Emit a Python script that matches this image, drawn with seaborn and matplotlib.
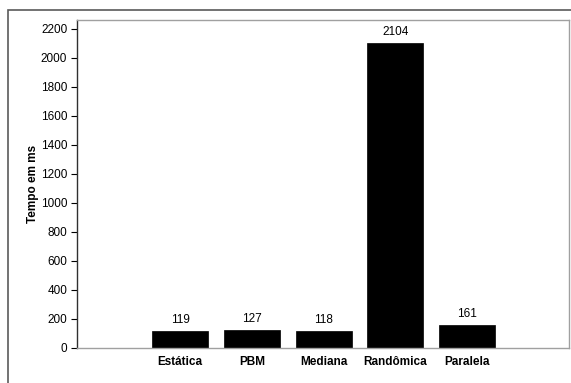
import matplotlib
matplotlib.use("Agg")
import matplotlib.pyplot as plt
from matplotlib.patches import Rectangle
import seaborn as sns

metodos = ["Estática", "PBM", "Mediana", "Randômica", "Paralela"]
tempos_ms = [119, 127, 118, 2104, 161]
y_ticks = list(range(0, 2201, 200))

sns.set_theme(style="white")
plt.rcParams["font.family"] = ["Liberation Sans", "DejaVu Sans"]
plt.rcParams["text.color"] = "black"
plt.rcParams["axes.labelcolor"] = "black"
plt.rcParams["xtick.color"] = "black"
plt.rcParams["ytick.color"] = "black"

fig = plt.figure(figsize=(5.71, 3.83), dpi=100)
fig.patch.set_facecolor("white")

# chart-area frame
fig.patches.append(Rectangle((8 / 571, -0.05), 1.2, 1 - 10 / 383 + 0.05,
                             transform=fig.transFigure, fill=False,
                             edgecolor="#5a5a5a", linewidth=1.2, zorder=0))

ax = fig.add_axes([77 / 571, 35 / 383, 492 / 571, 328 / 383])
sns.barplot(x=metodos, y=tempos_ms, color="black", saturation=1,
            width=0.78, edgecolor="black", linewidth=0.5, ax=ax)

for cont in ax.containers:
    ax.bar_label(cont, labels=[str(v) for v in tempos_ms], padding=3.5,
                 fontsize=8.5, color="black")

ax.set_xlim(-1.44, 5.42)
ax.set_ylim(0, 2262)
ax.set_yticks(y_ticks)
ax.set_yticklabels([str(t) for t in y_ticks], fontsize=8.5)
ax.set_xticks(range(len(metodos)))
ax.set_xticklabels(metodos, fontsize=8.5, fontweight="bold")
ax.tick_params(axis="y", which="both", left=True, length=4, width=0.8,
               color="black", labelcolor="black", pad=3)
ax.tick_params(axis="x", bottom=False, length=0, pad=6, labelcolor="black")

ax.set_ylabel("Tempo em ms", fontsize=8.5, fontweight="bold", labelpad=1.5,
              color="black")
ax.set_xlabel("")

for side in ["top", "right", "bottom"]:
    ax.spines[side].set_visible(True)
    ax.spines[side].set_color("#a0a0a0")
    ax.spines[side].set_linewidth(1.0)
ax.spines["left"].set_color("#303030")
ax.spines["left"].set_linewidth(1.0)

fig.savefig("out.png", dpi=100, facecolor="white")
